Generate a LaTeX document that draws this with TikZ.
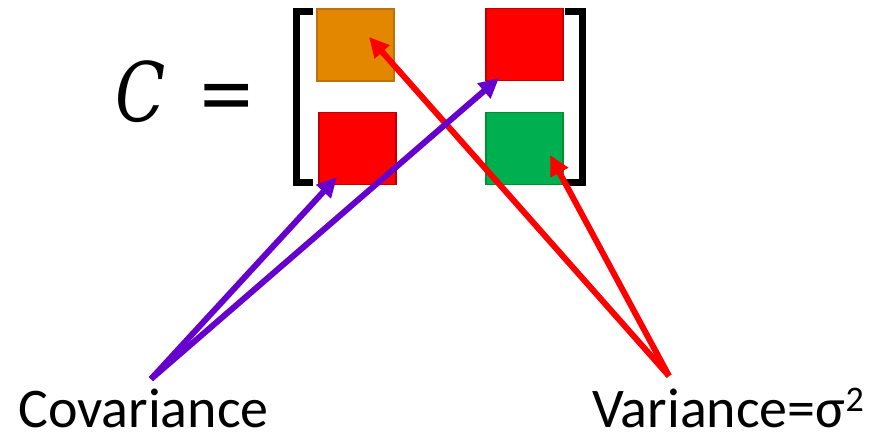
\documentclass[tikz,border=0pt]{standalone}
\usepackage{fontspec}
\setmainfont{Carlito}
\newfontfamily\eqfont{DejaVu Serif}
\usetikzlibrary{arrows.meta}
\definecolor{boxorange}{HTML}{E38600}
\definecolor{boxorangeb}{HTML}{B8740A}
\definecolor{boxred}{HTML}{FF0000}
\definecolor{boxredb}{HTML}{C00000}
\definecolor{boxgreen}{HTML}{00B050}
\definecolor{boxgreenb}{HTML}{00902E}
\definecolor{arrpurple}{HTML}{6600CC}
\tikzset{
  cell/.style={draw, line width=1.5pt, minimum width=77pt, minimum height=72pt, inner sep=0pt},
  bracket/.style={draw=black, line width=7pt},
  lbl/.style={font=\fontsize{56}{60}\selectfont, inner sep=0pt, anchor=base west},
  eqtext/.style={font=\eqfont\fontsize{82}{86}\selectfont, inner sep=0pt},
  redarr/.style={draw=boxred, line width=6pt, -{Triangle[length=20pt,width=19pt]}},
  purarr/.style={draw=arrpurple, line width=6pt, -{Triangle[length=20pt,width=19pt]}}
}
\begin{document}
\begin{tikzpicture}[x=1pt,y=-1pt]
\useasboundingbox (0,0) rectangle (873,435);
% matrix name and equals
\node[eqtext, anchor=base] (cname) at (141,122) {\scalebox{0.8}[1]{\itshape C}};
\node[eqtext, anchor=base] (eq) at (227,122) {\scalebox{0.85}[1]{=}};
% brackets
\draw[bracket] (313,12) -- (296,12) -- (296,183) -- (313,183);
\draw[bracket] (565,12) -- (582,12) -- (582,183) -- (565,183);
% cells
\node[cell, fill=boxorange, draw=boxorangeb] (c11) at (355.5,45) {};
\node[cell, fill=boxred, draw=boxredb] (c12) at (524.5,44.5) {};
\node[cell, fill=boxred, draw=boxredb] (c21) at (357.5,148.5) {};
\node[cell, fill=boxgreen, draw=boxgreenb] (c22) at (524.5,148.5) {};
% labels
\node[lbl] (cov) at (18,428) {Covariance};
\node[lbl] (var) at (592,428) {Variance=σ\raisebox{16pt}{\fontsize{36}{36}\selectfont 2}};
% arrow ends
\coordinate (covs) at (151,379);
\coordinate (vars) at (669,376);
\coordinate (t11) at (369,37);
\coordinate (t12) at (499,78);
\coordinate (t21) at (337,177);
\coordinate (t22) at (550,155);
\draw[redarr] (vars) -- (t11);
\draw[redarr] (vars) -- (t22);
\draw[purarr] (covs) -- (t21);
\draw[purarr] (covs) -- (t12);
\end{tikzpicture}
\end{document}
